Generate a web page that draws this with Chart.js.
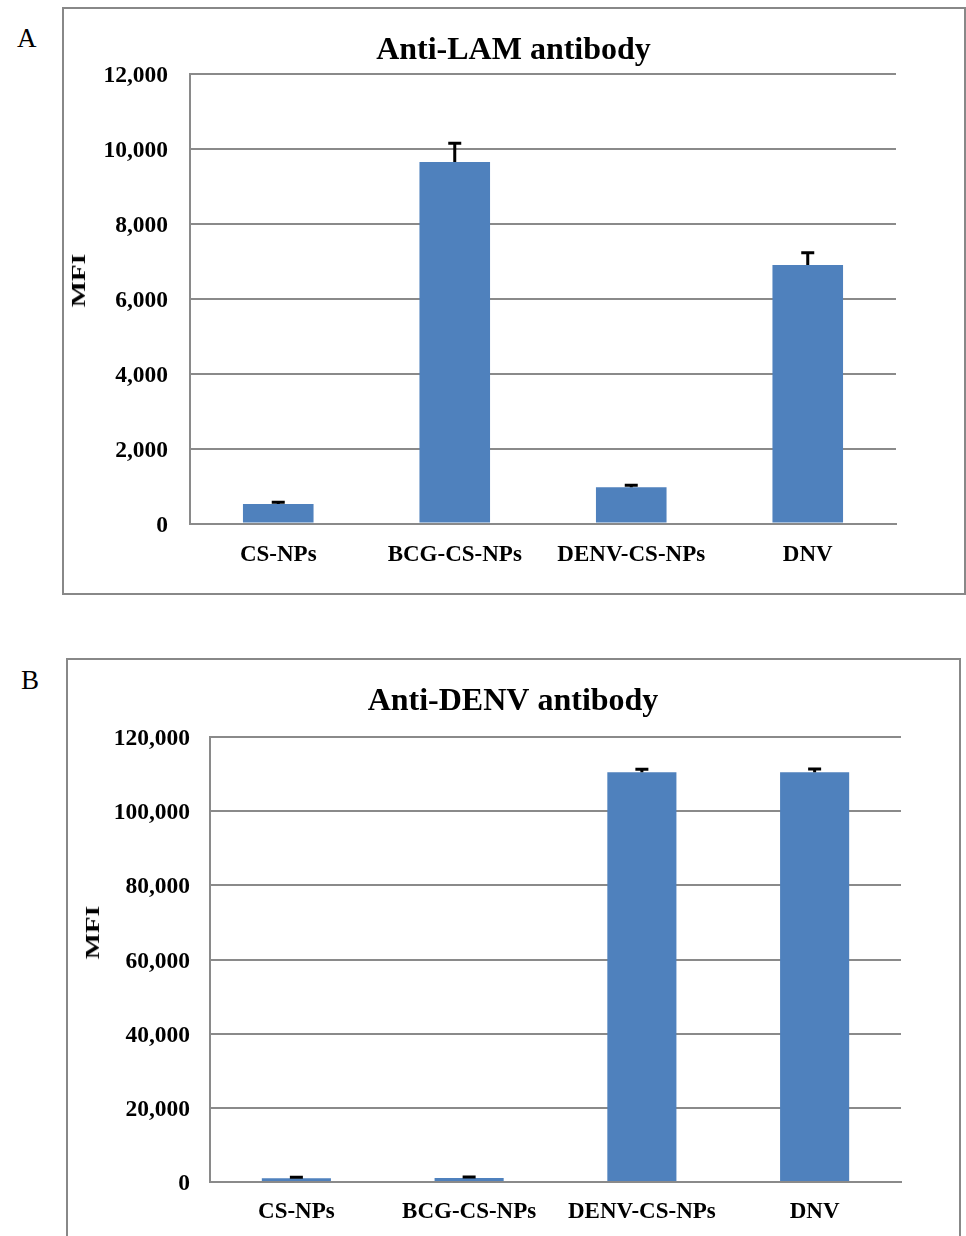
<!DOCTYPE html>
<html>
<head>
<meta charset="utf-8">
<script src="https://cdn.jsdelivr.net/npm/chart.js@4.4.1/dist/chart.umd.min.js"></script>
<style>
  html, body { margin: 0; padding: 0; background: #fff; overflow: hidden; }
  body { width: 966px; height: 1236px; position: relative; font-family: "Liberation Serif", "DejaVu Serif", serif; }
  .panel-letter { position: absolute; font-size: 27px; color: #000; line-height: 1; }
  .frame { position: absolute; border: 2.5px solid #888; box-sizing: border-box; }
  .frame canvas { position: absolute; left: 0; top: 0; }
  .ylab { position: absolute; font-weight: bold; font-size: 19px; color: #000; white-space: nowrap;
          transform-origin: center center; line-height: 1; }
</style>
</head>
<body>
<div class="panel-letter" style="left:17px; top:25px;">A</div>
<div class="frame" style="left:62px; top:7px; width:904px; height:588px;">
  <canvas id="chartA" width="899" height="583" style="width:899px;height:583px;"></canvas>
</div>
<div class="ylab" id="mfiA">MFI</div>

<div class="panel-letter" style="left:21px; top:667px;">B</div>
<div class="frame" style="left:66px; top:658px; width:895px; height:640px;">
  <canvas id="chartB" width="890" height="576" style="width:890px;height:576px;"></canvas>
</div>
<div class="ylab" id="mfiB">MFI</div>

<script>
// Groups shown on the x axis of both panels
const categories = ['CS-NPs', 'BCG-CS-NPs', 'DENV-CS-NPs', 'DNV'];

// Panel A: anti-LAM antibody MFI and upper error
const lamMfi = [520, 9650, 970, 6900];
const lamErr = [50, 500, 50, 330];
const lamTickMax = 12000;
const lamTickStep = 2000;

// Panel B: anti-DENV antibody MFI and upper error
const denvMfi = [1000, 1100, 110500, 110500];
const denvErr = [250, 250, 800, 900];
const denvTickMax = 120000;
const denvTickStep = 20000;

const FONT = "'Liberation Serif', 'Times New Roman', serif";
const GRID = '#8a8a8a';
const BAR = '#4f81bd';

// Draws the "plus" error bars (stem + cap) on top of each bar
const errorBars = {
  id: 'errorBars',
  afterDatasetsDraw(chart) {
    const ctx = chart.ctx;
    const yScale = chart.scales.y;
    chart.data.datasets.forEach((ds, di) => {
      const meta = chart.getDatasetMeta(di);
      meta.data.forEach((bar, i) => {
        const top = yScale.getPixelForValue(ds.data[i] + ds.errors[i]);
        ctx.save();
        ctx.strokeStyle = '#000';
        ctx.lineWidth = 3;
        ctx.beginPath();
        ctx.moveTo(bar.x, bar.y);
        ctx.lineTo(bar.x, top);
        ctx.moveTo(bar.x - 6.5, top);
        ctx.lineTo(bar.x + 6.5, top);
        ctx.stroke();
        ctx.restore();
      });
    });
  }
};

function makeChart(id, title, values, errors, max, step, g) {
  return new Chart(document.getElementById(id), {
    type: 'bar',
    data: {
      labels: categories,
      datasets: [{
        data: values,
        errors: errors,
        backgroundColor: BAR,
        borderWidth: 0,
        categoryPercentage: 1,
        barPercentage: 0.4
      }]
    },
    options: {
      responsive: false,
      animation: false,
      layout: { padding: 0 },
      plugins: {
        legend: { display: false },
        tooltip: { enabled: false },
        title: {
          display: true,
          text: title,
          color: '#000',
          font: { family: FONT, size: 32, weight: 'bold', lineHeight: 1.2 },
          padding: { top: g.titleTop, bottom: g.titleBottom }
        }
      },
      scales: {
        x: {
          grid: { display: false, drawTicks: false },
          border: { display: true, color: GRID, width: 2 },
          ticks: {
            color: '#000', autoSkip: false, maxRotation: 0, padding: g.xPad,
            font: { family: FONT, size: 23, weight: 'bold' }
          },
          afterFit(s) { s.height = g.xHeight; }
        },
        y: {
          min: 0, max: max,
          grid: { color: GRID, lineWidth: 2, drawTicks: false },
          border: { display: true, color: GRID, width: 2 },
          ticks: {
            stepSize: step, color: '#000', padding: g.yPad, labelOffset: 2,
            font: { family: FONT, size: 23.5, weight: 'bold' },
            callback: v => v.toLocaleString('en-US')
          },
          afterFit(s) { s.width = g.yWidth; }
        },
        // empty right-hand margin so the title stays centred on the frame
        margin: {
          type: 'linear', position: 'right',
          grid: { display: false, drawTicks: false },
          border: { display: false },
          ticks: { display: false },
          afterFit(s) { s.width = g.rightGap; }
        }
      }
    },
    plugins: [errorBars]
  });
}

makeChart('chartA', 'Anti-LAM antibody', lamMfi, lamErr, lamTickMax, lamTickStep,
  { yWidth: 126, rightGap: 67, titleTop: 23, titleBottom: 3.6, xHeight: 68.5, xPad: 18, yPad: 22 });
makeChart('chartB', 'Anti-DENV antibody', denvMfi, denvErr, denvTickMax, denvTickStep,
  { yWidth: 142, rightGap: 57, titleTop: 22.5, titleBottom: 16.1, xHeight: 54, xPad: 16, yPad: 20 });

// Rotated, slightly stretched y-axis captions
function placeCaption(id, cx, cy) {
  const el = document.getElementById(id);
  const w = el.offsetWidth, h = el.offsetHeight;
  el.style.left = (cx - w / 2) + 'px';
  el.style.top = (cy - h / 2) + 'px';
  el.style.transform = 'rotate(-90deg) scaleX(1.45)';
}
placeCaption('mfiA', 78, 280);
placeCaption('mfiB', 92, 932);
</script>
</body>
</html>
